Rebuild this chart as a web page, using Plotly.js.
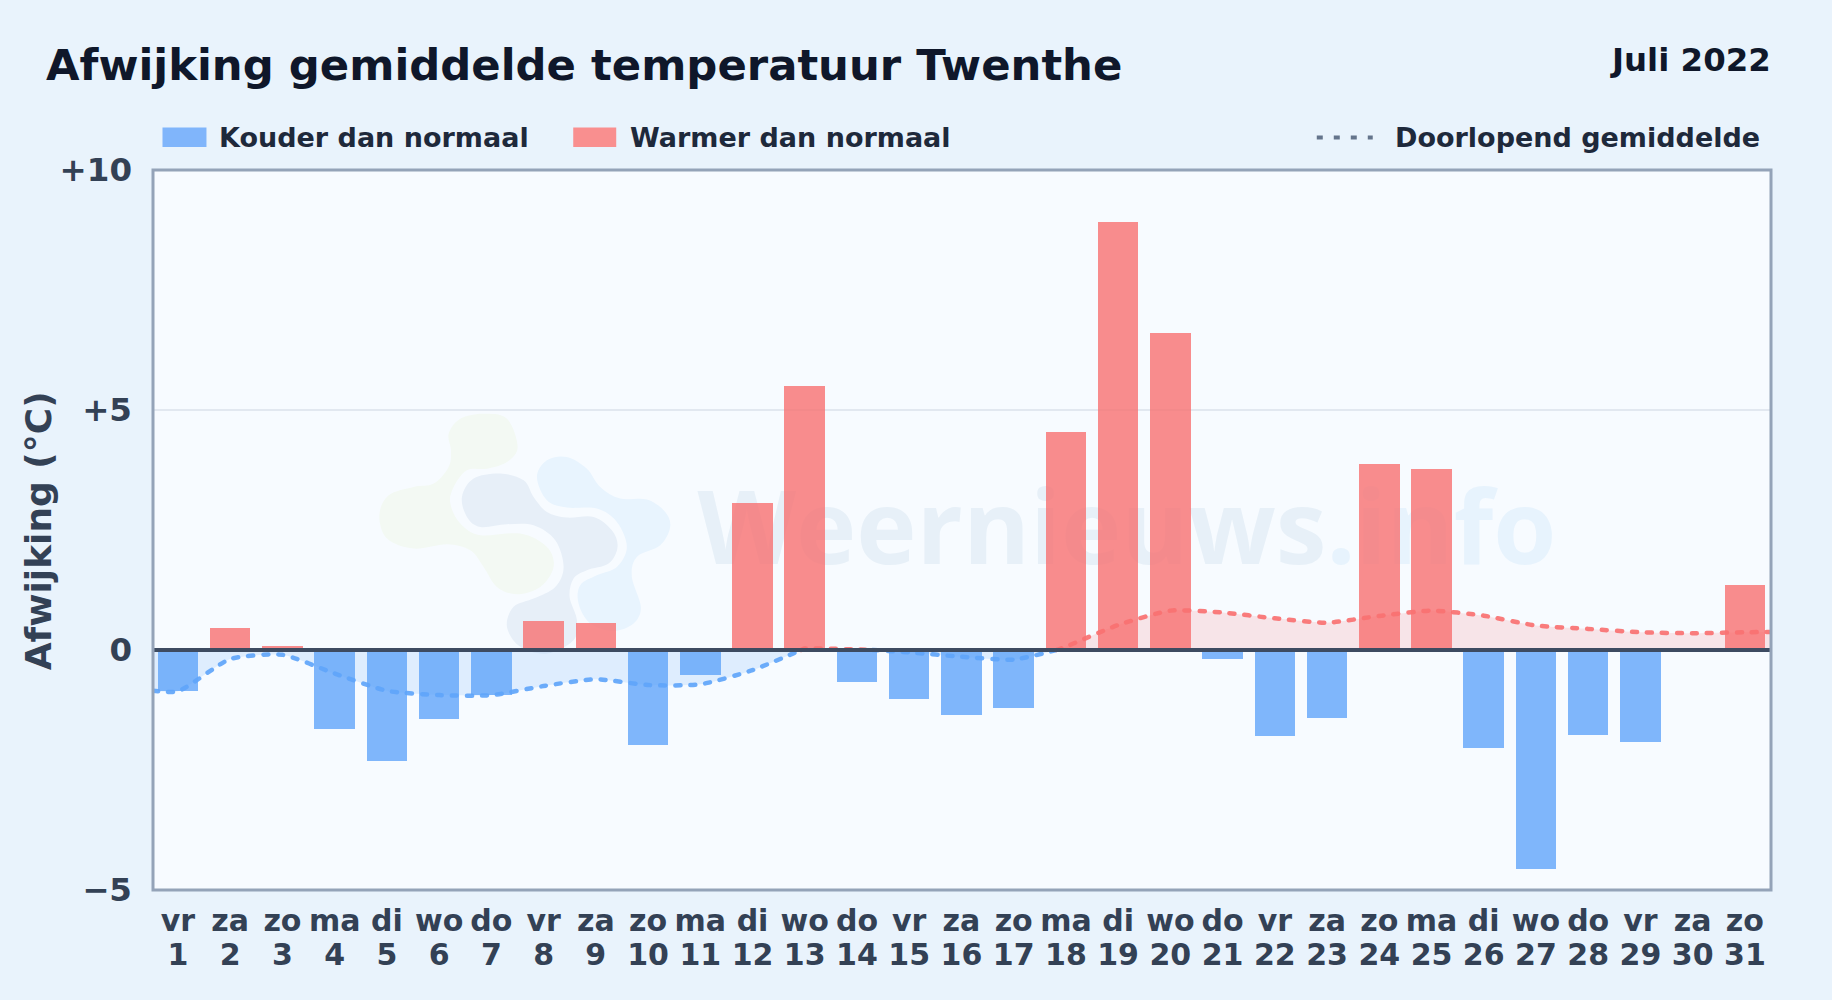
<!DOCTYPE html>
<html>
<head>
<meta charset="utf-8">
<script src="https://cdn.plot.ly/plotly-3.0.1.min.js"></script>
<style>
html,body{margin:0;padding:0;width:1832px;height:1000px;overflow:hidden;background:#e9f3fc}
#chart{width:1832px;height:1000px}
#chart .scatterlayer .js-line{stroke-linecap:round}
</style>
</head>
<body>
<div id="chart"></div>
<script>
const dagen = [1,2,3,4,5,6,7,8,9,10,11,12,13,14,15,16,17,18,19,20,21,22,23,24,25,26,27,28,29,30,31];
const weekdagen = ["vr","za","zo","ma","di","wo","do","vr","za","zo","ma","di","wo","do","vr","za","zo","ma","di","wo","do","vr","za","zo","ma","di","wo","do","vr","za","zo"];
const afwijking = [-0.85,0.46,0.08,-1.65,-2.31,-1.44,-0.94,0.6,0.56,-1.98,-0.52,3.06,5.5,-0.67,-1.02,-1.35,-1.21,4.54,8.92,6.6,-0.19,-1.79,-1.42,3.87,3.77,-2.04,-4.56,-1.77,-1.92,0,1.35];

const koudX1 = [0.52,1,2,3,4,5,6,7,8,9,10,11,12,12.93];
const koudY1 = [-0.85,-0.86,-0.19,-0.10,-0.49,-0.85,-0.94,-0.94,-0.75,-0.61,-0.73,-0.715,-0.42,0];
const warmX1 = [12.93,13,14,14.3];
const warmY1 = [0,0.03,0.01,0];
const koudX2 = [14.3,15,16,17,17.82];
const koudY2 = [0,-0.05,-0.14,-0.2,0];
const warmX2 = [17.82,18,19,20,21,22,23,24,25,26,27,28,29,30,31,31.5];
const warmY2 = [0,0.07,0.52,0.82,0.78,0.66,0.57,0.71,0.82,0.715,0.51,0.44,0.37,0.35,0.37,0.375];

const yTickWaarden = [-5,0,5,10];
const yTickTeksten = ["−5","0","+5","+10"];

const BLAUW = "#60a5fa", ROOD = "#f87171";
const F = "DejaVu Sans";
const W = 1832, H = 1000, L = 152.5, R = 1771.5, T = 169.5, B = 890;

function gemiddeldeLijn(x, y, kleur, vul) {
  return {type:"scatter", mode:"lines", x, y, showlegend:false, hoverinfo:"skip",
    line:{color:kleur, width:4.5, dash:"5px,10px", shape:"spline", smoothing:0.6},
    fill:"tozeroy", fillcolor:vul};
}

const traces = [
  gemiddeldeLijn(koudX1, koudY1, "rgba(96,165,250,0.92)", "rgba(96,165,250,0.16)"),
  gemiddeldeLijn(warmX1, warmY1, "rgba(248,113,113,0.92)", "rgba(248,113,113,0.16)"),
  gemiddeldeLijn(koudX2, koudY2, "rgba(96,165,250,0.92)", "rgba(96,165,250,0.16)"),
  gemiddeldeLijn(warmX2, warmY2, "rgba(248,113,113,0.92)", "rgba(248,113,113,0.16)"),
  {type:"bar", x:dagen, y:afwijking, width:0.775, showlegend:false,
   marker:{color:afwijking.map(v => v < 0 ? BLAUW : ROOD), opacity:0.8, line:{width:0}}},
  {type:"scatter", mode:"none", x:[dagen[0]], y:[0], xaxis:"x2", showlegend:false, hoverinfo:"skip"}
];

/* watermerk-logo */
function blob(p, fill) {
  let d = "M" + p[0].join(",");
  const n = p.length;
  for (let i = 0; i < n; i++) {
    const a = p[(i - 1 + n) % n], b = p[i], c = p[(i + 1) % n], e = p[(i + 2) % n];
    d += " C" + (b[0] + (c[0] - a[0]) / 6) + "," + (b[1] + (c[1] - a[1]) / 6) + " " +
         (c[0] - (e[0] - b[0]) / 6) + "," + (c[1] - (e[1] - b[1]) / 6) + " " + c[0] + "," + c[1];
  }
  return '<path d="' + d + ' Z" fill="' + fill + '"/>';
}
const logoSvg = '<svg xmlns="http://www.w3.org/2000/svg" width="1020" height="840" viewBox="0 0 1020 840">' +
  blob([[265,130],[300,85],[370,70],[440,85],[472,170],[440,215],[380,235],[320,240],[280,290],[270,340],[300,400],[360,435],[480,430],[560,470],[580,530],[540,590],[470,612],[410,590],[370,530],[330,480],[260,462],[160,475],[80,445],[57,375],[85,315],[160,290],[220,280],[265,230],[272,180]], "#f3f9f3") +
  blob([[305,320],[340,265],[420,250],[490,270],[520,320],[560,365],[620,382],[700,380],[755,420],[772,470],[745,520],[680,540],[640,565],[628,620],[650,690],[640,750],[560,790],[480,770],[440,710],[460,650],[520,625],[585,590],[610,530],[585,450],[520,405],[440,402],[360,410],[320,380]], "#e7eff8") +
  blob([[530,260],[560,210],[620,200],[680,235],[720,290],[780,325],[860,328],[915,365],[930,410],[900,465],[830,500],[815,560],[842,650],[820,700],[760,722],[690,700],[655,640],[660,585],[710,555],[770,530],[800,470],[770,395],[710,355],[620,352],[560,330]], "#e8f4fe") +
  '</svg>';

const fx = x => (x - L) / (R - L), fy = y => (B - y) / (B - T);
const paperShape = o => Object.assign({xref:"paper", yref:"paper"}, o);
const shapes = [
  paperShape({type:"rect", layer:"below", x0:fx(702), x1:fx(1552), y0:fy(600), y1:fy(462),
   line:{width:0}, fillcolor:"rgba(0,0,0,0)",
   label:{text:'<span style="color:#e7f0f8">Weernieuws</span><span style="color:#e7f3fd">.info</span>',
          font:{family:"Open Sans", size:102, color:"#e7f0f8", weight:700}, textposition:"middle center"}}),
  {type:"line", layer:"above", xref:"paper", yref:"y", x0:0, x1:1, y0:0, y1:0,
   line:{color:"#3d4b61", width:4}},
  paperShape({type:"rect", layer:"above", x0:0, x1:1, y0:0, y1:1, line:{color:"#94a3b8", width:3}, fillcolor:"rgba(0,0,0,0)"}),
  paperShape({type:"rect", x0:fx(162), x1:fx(206), y0:fy(146.5), y1:fy(127), line:{width:0}, fillcolor:"#80b5fb"}),
  paperShape({type:"rect", x0:fx(573), x1:fx(616), y0:fy(146.5), y1:fy(127), line:{width:0}, fillcolor:"#f98f8f"}),
  paperShape({type:"line", x0:fx(1317), x1:fx(1373), y0:fy(137), y1:fy(137),
   line:{color:"#64748b", width:4, dash:"6px,11px"}})
];

function tekst(text, x, y, anchor, size, kleur, extra) {
  return Object.assign({text, xref:"paper", yref:"paper", x:fx(x), y:fy(y), xanchor:anchor, yanchor:"middle",
    showarrow:false, font:{family:F, size, color:kleur, weight:700}}, extra || {});
}

const xBasis = {range:[0.522,31.5], tickmode:"array", tickvals:dagen, ticks:"",
  showgrid:false, zeroline:false, showline:false};

const layout = {
  width:W, height:H, autosize:false,
  paper_bgcolor:"#e9f3fc", plot_bgcolor:"#f7fbff",
  margin:{l:L, r:W-R, t:T, b:H-B, pad:0},
  title:{text:"Afwijking gemiddelde temperatuur Twenthe", xref:"container", yref:"container",
         x:46/W, xanchor:"left", y:1-65/H, yanchor:"middle",
         font:{family:F, size:43.35, color:"#0f172a", weight:700}},
  font:{family:F},
  bargap:0,
  showlegend:false,
  xaxis:Object.assign({}, xBasis, {ticktext:weekdagen, ticklabelstandoff:10,
         tickfont:{family:F, size:30, color:"#334155", weight:700}}),
  xaxis2:Object.assign({}, xBasis, {ticktext:dagen.map(String), overlaying:"x", side:"bottom", anchor:"y", ticklabelstandoff:44,
         tickfont:{family:F, size:30, color:"#334155", weight:700}}),
  yaxis:{range:[-5,10], tickmode:"array", tickvals:yTickWaarden, ticktext:yTickTeksten,
         tickfont:{family:F, size:32.5, color:"#334155", weight:700}, ticks:"", ticklabelstandoff:20,
         gridcolor:"#e2e8f0", gridwidth:2, zeroline:false, showline:false},
  shapes,
  images:[{source:"data:image/svg+xml;charset=utf-8," + encodeURIComponent(logoSvg), xref:"paper", yref:"paper",
           x:fx(360), y:fy(390), sizex:340/(R-L), sizey:280/(B-T), sizing:"stretch", xanchor:"left", yanchor:"top", layer:"below"}],
  annotations:[
    tekst("Juli 2022", 1774, 59, "right", 32.4, "#0f172a"),
    tekst("Kouder dan normaal", 217, 137, "left", 27, "#1e293b"),
    tekst("Warmer dan normaal", 628, 137, "left", 27, "#1e293b"),
    tekst("Doorlopend gemiddelde", 1762, 137, "right", 27, "#1e293b"),
    tekst("Afwijking (°C)", 37.5, 531, "center", 36, "#334155", {textangle:-90})
  ]
};
Plotly.newPlot("chart", traces, layout, {displayModeBar:false, staticPlot:true});
</script>
</body>
</html>
